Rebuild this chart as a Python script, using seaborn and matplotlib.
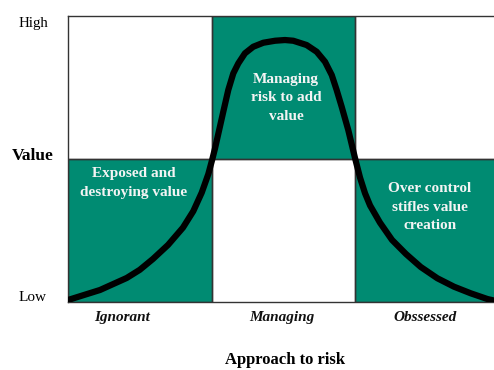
import matplotlib
matplotlib.use("Agg")
import matplotlib.pyplot as plt
import seaborn as sns

sns.set_style("white")
plt.rcParams['font.family'] = ['Liberation Serif', 'DejaVu Serif']

# ---- data ----
categories = ["Ignorant", "Managing", "Obssessed"]
value_levels = ["Low", "Value", "High"]
box_centers = [0.5, 1.5, 2.5]
box_bottoms = [0, 1, 0]
box_heights = [1, 1, 1]
box_texts = ["Exposed and\ndestroying value",
             "Managing\nrisk to add\nvalue",
             "Over control\nstifles value\ncreation"]

curve_x = [0.0, 0.223, 0.409, 0.50, 0.592, 0.697, 0.801, 0.873, 0.932, 0.978,
           1.006, 1.024, 1.082, 1.117, 1.152, 1.187, 1.233, 1.291, 1.361, 1.443,
           1.512, 1.570, 1.663, 1.733, 1.791, 1.838, 1.872, 1.907, 1.953, 2.0,
           2.035, 2.07, 2.105, 2.174, 2.258, 2.355, 2.458, 2.574, 2.690, 2.806,
           2.922, 2.969]
curve_y = [0.014, 0.084, 0.168, 0.225, 0.301, 0.399, 0.52, 0.635, 0.765, 0.895,
           1.0, 1.072, 1.33, 1.483, 1.599, 1.669, 1.739, 1.785, 1.813, 1.827,
           1.832, 1.827, 1.797, 1.750, 1.680, 1.587, 1.483, 1.366, 1.203, 1.007,
           0.87, 0.76, 0.675, 0.555, 0.434, 0.336, 0.245, 0.166, 0.107, 0.061,
           0.021, 0.010]

teal = "#008B72"
edge = "#333333"

fig = plt.figure(figsize=(4.94, 3.70), dpi=100)
ax = fig.add_axes([68/494, (370-302)/370, (494-68)/494, (302-16)/370])

ax.bar(box_centers, box_heights, bottom=box_bottoms, width=1.0,
       color=teal, edgecolor=edge, linewidth=1.0, zorder=1)
ax.axhline(1, color=edge, linewidth=1.0, zorder=1.5)
for xv in [1, 2]:
    ax.axvline(xv, color=edge, linewidth=1.0, zorder=1.5)

sns.lineplot(x=curve_x, y=curve_y, sort=False, ax=ax, color="black",
             linewidth=4.5, zorder=3, solid_capstyle="round", solid_joinstyle="round")

ax.set_xlim(0, 426/143.5)
ax.set_ylim(0, 2)
ax.set_xticks([])
ax.set_yticks([])
ax.set_xlabel("")
ax.set_ylabel("")
for s in ["top", "bottom", "left"]:
    ax.spines[s].set_visible(True)
    ax.spines[s].set_color(edge)
    ax.spines[s].set_linewidth(1.0)
ax.spines["right"].set_visible(False)

# box labels
box_text_pos = [(0.46, 0.832), (1.519, 1.43), (2.523, 0.661)]
for (tx, ty), t in zip(box_text_pos, box_texts):
    ax.text(tx, ty, t, ha="center", va="center", color="#F4F4F4",
            fontsize=11, fontweight="bold", linespacing=1.55, zorder=4)

# y labels
ylab_pos = [0.03, 1.02, 1.95]
ylab_size = [11, 12.5, 10.8]
ylab_weight = ["normal", "bold", "normal"]
for yv, lab, fs, fw in zip(ylab_pos, value_levels, ylab_size, ylab_weight):
    ax.text(-0.244, yv, lab, ha="center", va="center", fontsize=fs,
            fontweight=fw, color="black", clip_on=False)

# x category labels
xlab_pos = [0.376, 1.49, 2.49]
for xv, lab in zip(xlab_pos, categories):
    ax.text(xv, -0.11, lab, ha="center", va="center", fontsize=11,
            fontweight="bold", fontstyle="italic", color="#111111", clip_on=False)

ax.text(1.512, -0.405, "Approach to risk", ha="center", va="center",
        fontsize=12, fontweight="bold", color="black", clip_on=False)

fig.savefig("out.png", dpi=100)
